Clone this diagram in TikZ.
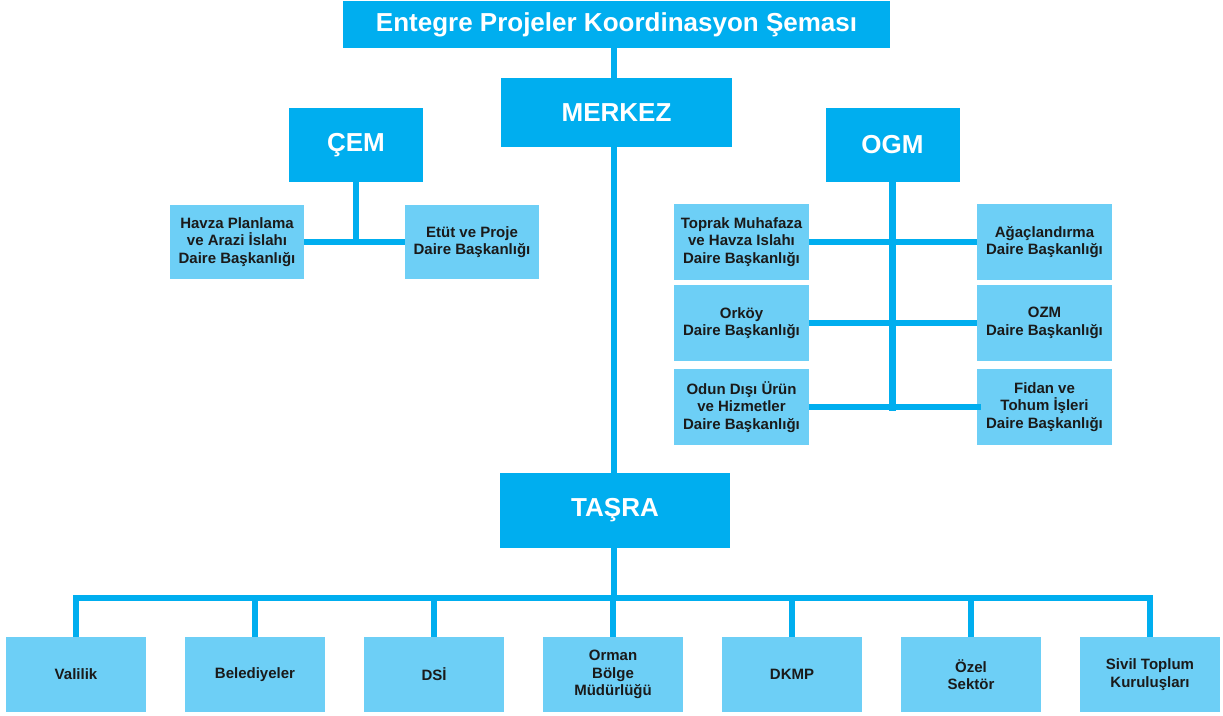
\documentclass[tikz,border=0pt]{standalone}
\usepackage{fontspec}
\setmainfont{Liberation Sans}
\definecolor{dark}{HTML}{00AEEF}
\definecolor{light}{HTML}{6DCFF6}
\definecolor{ink}{HTML}{1A1A1A}
\begin{document}
\begin{tikzpicture}[x=1pt,y=-1pt,
  bigbox/.style={fill=dark,draw=none,inner sep=0pt,text=white,font=\bfseries\fontsize{26}{30}\selectfont,align=center},
  subbox/.style={fill=light,draw=none,inner sep=0pt,minimum width=134pt,minimum height=74pt,text=ink,font=\bfseries\fontsize{15}{17.5}\selectfont,align=center},
  leafbox/.style={fill=light,draw=none,inner sep=0pt,minimum width=140pt,minimum height=75pt,text=ink,font=\bfseries\fontsize{15}{17.5}\selectfont,align=center},
  conn/.style={draw=dark,line width=6.5pt}]
\useasboundingbox (0,0) rectangle (1223,715);
\coordinate (bus) at (614,598);
% nodes
\node[bigbox,minimum width=547pt,minimum height=47pt] (title) at (616.5,24.5) {Entegre Projeler Koordinasyon Şeması};
\node[bigbox,minimum width=231pt,minimum height=69pt] (merkez) at (616.5,112.5) {MERKEZ};
\node[bigbox,minimum width=134pt,minimum height=74pt] (cem) at (356,145) {ÇEM};
\node[bigbox,minimum width=134pt,minimum height=74pt] (ogm) at (892.5,145) {OGM};
\node[bigbox,minimum width=230pt,minimum height=75pt] (tasra) at (615,510.5) {TAŞRA};
% CEM children
\node[subbox] (havza) at (237,242) {Havza Planlama\\ve Arazi İslahı\\Daire Başkanlığı};
\node[subbox] (etut) at (472,242) {Etüt ve Proje\\Daire Başkanlığı};
% OGM children
\node[subbox,minimum width=135pt,minimum height=76pt] (toprak) at (741.5,242) {Toprak Muhafaza\\ve Havza Islahı\\Daire Başkanlığı};
\node[subbox,minimum width=135pt,minimum height=76pt] (orkoy) at (741.5,323) {Orköy\\Daire Başkanlığı};
\node[subbox,minimum width=135pt,minimum height=76pt] (odun) at (741.5,407) {Odun Dışı Ürün\\ve Hizmetler\\Daire Başkanlığı};
\node[subbox,minimum width=135pt,minimum height=76pt] (agac) at (1044.5,242) {Ağaçlandırma\\Daire Başkanlığı};
\node[subbox,minimum width=135pt,minimum height=76pt] (ozm) at (1044.5,323) {OZM\\Daire Başkanlığı};
\node[subbox,minimum width=135pt,minimum height=76pt] (fidan) at (1044.5,407) {Fidan ve\\Tohum İşleri\\Daire Başkanlığı};
% bottom leaves
\node[leafbox] (valilik) at (76,674.5) {Valilik};
\node[leafbox] (beled) at (255,674.5) {Belediyeler};
\node[leafbox] (dsi) at (434,674.5) {DSİ};
\node[leafbox] (orman) at (613,674.5) {Orman\\Bölge\\Müdürlüğü};
\node[leafbox] (dkmp) at (792,674.5) {DKMP};
\node[leafbox] (ozel) at (971,674.5) {Özel\\Sektör};
\node[leafbox] (sivil) at (1150,674.5) {Sivil Toplum\\Kuruluşları};
% connectors
\draw[conn] (title.south -| bus) -- (merkez.north -| bus);
\draw[conn] (merkez.south -| bus) -- (tasra.north -| bus);
\draw[conn] (tasra.south -| bus) -- (bus);
\draw[conn] (valilik.north) |- (bus) -| (sivil.north);
\draw[conn] (beled.north) -- (beled.north |- bus);
\draw[conn] (dsi.north) -- (dsi.north |- bus);
\draw[conn] (orman.north) -- (orman.north |- bus);
\draw[conn] (dkmp.north) -- (dkmp.north |- bus);
\draw[conn] (ozel.north) -- (ozel.north |- bus);
\coordinate (cemj) at (cem.south |- havza.east);
\draw[conn] (cem.south) -- (cemj);
\draw[conn] (havza.east) -- (etut.west);
\coordinate (ogmj) at ([yshift=-4pt]ogm.south |- odun.east);
\draw[conn] (ogm.south) -- (ogmj);
\draw[conn] (toprak.east) -- (agac.west);
\draw[conn] (orkoy.east) -- (ozm.west);
\draw[conn] (odun.east) -- ([xshift=4pt]fidan.west);
\end{tikzpicture}
\end{document}
